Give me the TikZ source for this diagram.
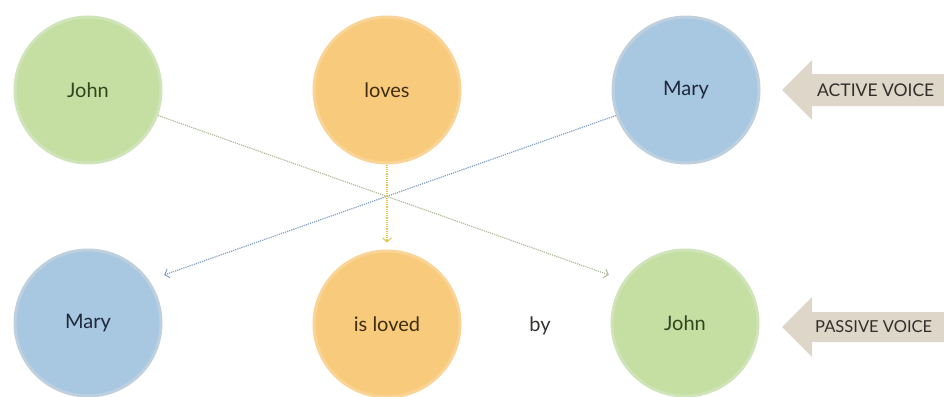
\documentclass[tikz,border=0pt]{standalone}
\usepackage{fontspec}
\setmainfont{Lato}
\usetikzlibrary{arrows.meta}
\definecolor{greenF}{RGB}{197,222,162}
\definecolor{greenB}{RGB}{208,228,185}
\definecolor{greenT}{RGB}{50,70,30}
\definecolor{orangeF}{RGB}{248,202,124}
\definecolor{orangeB}{RGB}{250,212,150}
\definecolor{orangeT}{RGB}{65,45,15}
\definecolor{blueF}{RGB}{168,200,226}
\definecolor{blueB}{RGB}{190,208,222}
\definecolor{blueT}{RGB}{30,40,60}
\definecolor{beige}{RGB}{222,214,200}
\definecolor{labT}{RGB}{50,47,43}
\definecolor{byT}{RGB}{55,50,45}
\definecolor{greenL}{RGB}{175,188,155}
\definecolor{blueL}{RGB}{130,160,195}
\definecolor{orangeL}{RGB}{230,195,80}
\tikzset{
  x=1pt, y=-1pt,
  bubble/.style={circle, minimum size=146pt, inner sep=0pt, line width=3pt, font=\fontsize{20}{20}\selectfont},
  gbub/.style={bubble, fill=greenF, draw=greenB, text=greenT},
  obub/.style={bubble, fill=orangeF, draw=orangeB, text=orangeT},
  bbub/.style={bubble, fill=blueF, draw=blueB, text=blueT},
  link/.style={densely dotted, line width=1.2pt, -{Straight Barb[length=4pt,width=9pt,line width=1pt]}},
  voice/.style={fill=beige},
  voicetext/.style={text=labT, anchor=west, inner sep=0pt}
}
\begin{document}
\begin{tikzpicture}
\useasboundingbox (0,0) rectangle (944,396);
\node[gbub] (johnA) at (88,90) {John};
\node[obub] (loves) at (387,90) {loves};
\node[bbub] (maryA) at (686,90) {Mary};
\node[bbub] (maryP) at (88,323) {Mary};
\node[obub] (isloved) at (387,324) {is loved};
\node[font=\fontsize{20}{20}\selectfont, text=byT] (by) at (540,326) {by};
\node[gbub] (johnP) at (685,323) {John};
% voice arrows
\fill[voice] (782,90) -- (812,60) -- (812,74) -- (946,74) -- (946,106) -- (812,106) -- (812,120) -- cycle;
\node[voicetext, font=\fontsize{17.5}{17.5}\selectfont] (active) at (817,90) {ACTIVE VOICE};
\fill[voice] (782,327) -- (812,297) -- (812,312) -- (946,312) -- (946,342) -- (812,342) -- (812,357) -- cycle;
\node[voicetext, font=\fontsize{16.5}{16.5}\selectfont] (passive) at (815,327) {PASSIVE VOICE};
% connectors
\draw[link, draw=greenL, shorten >=16pt] (johnA.-20) -- (johnP.145);
\draw[link, draw=blueL, shorten >=16pt] (maryA.200) -- (maryP.35);
\draw[link, draw=orangeL, shorten >=7pt] (loves.south) -- (isloved.north);
\end{tikzpicture}
\end{document}
